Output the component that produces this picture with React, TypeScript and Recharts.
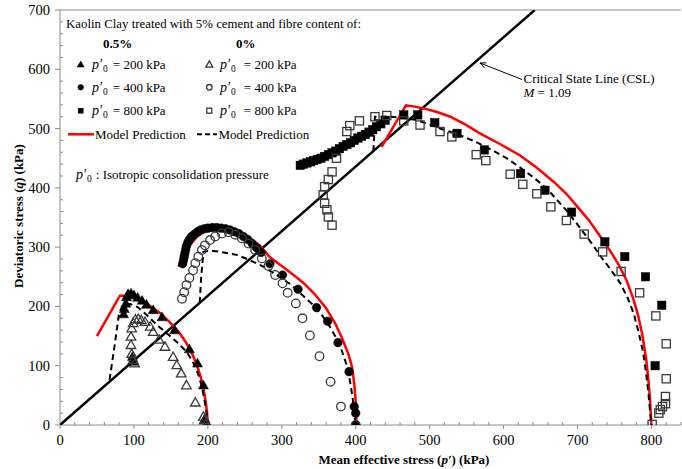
import React from 'react';
import { ScatterChart, Scatter, XAxis, YAxis, ReferenceLine, Customized } from 'recharts';

// ---------- data (p', q) in kPa ----------
const fibre05_p200: number[][] = [
  [199, 2], [196, 10], [194, 67], [186, 104], [175, 128], [155, 160], [138, 182], [126, 194],
  [117, 203], [111, 210], [105, 215], [100, 219], [96, 222], [92, 221], [90, 216], [89, 205],
  [87, 196], [86, 187], [98, 115], [99, 107],
];
const fibre0_p200: number[][] = [
  [198, 2], [195, 8], [194, 14], [183, 38], [171, 67], [164, 87], [158, 101], [153, 115],
  [142, 132], [134, 144], [126, 157], [122, 166], [115, 174], [110, 177], [106, 179], [102, 178],
  [99, 172], [97, 163], [96, 149], [96, 135], [97, 120], [99, 110], [101, 104],
];
const fibre05_p400: number[][] = [
  [166, 272], [167, 278], [168, 284], [169, 290], [170, 296], [171, 302], [173, 308], [175, 313],
  [178, 318], [182, 322], [186, 326], [190, 329], [195, 331], [200, 332], [206, 333], [212, 333],
  [218, 332], [224, 331], [230, 329], [236, 326], [242, 323], [248, 318], [254, 313], [260, 306],
  [266, 299], [272, 291], [284, 272], [301, 253], [322, 229], [347, 198], [362, 175], [376, 139],
  [391, 90], [398, 31], [400, 20], [400, 0],
];
const fibre0_p400: number[][] = [
  [400, 0], [380, 31], [366, 73], [351, 116], [338, 151], [328, 180], [319, 205], [308, 223],
  [301, 239], [291, 253], [282, 268], [273, 281], [264, 295], [255, 306], [246, 315], [237, 321],
  [228, 325], [219, 323], [210, 318], [203, 312], [196, 303], [192, 295], [187, 284], [183, 273],
  [180, 261], [175, 248], [171, 236], [168, 224], [165, 213],
];
const fibre05_p800: number[][] = [
  [325, 438], [329, 440], [334, 442], [339, 444], [343, 446], [348, 448], [353, 450], [358, 453],
  [363, 456], [368, 459], [373, 462], [378, 466], [383, 470], [388, 473], [393, 476], [398, 480],
  [403, 484], [408, 487], [413, 490], [418, 494], [423, 498], [428, 503], [434, 508], [440, 514],
  [465, 523], [484, 523], [507, 510], [537, 492], [574, 464], [623, 424], [656, 396], [692, 359],
  [737, 309], [764, 284], [792, 250], [814, 202], [805, 100],
];
const fibre0_p800: number[][] = [
  [801, 1], [810, 20], [812, 26], [815, 31], [819, 36], [819, 48], [820, 78], [820, 137],
  [806, 184], [784, 223], [759, 259], [734, 292], [709, 322], [685, 345], [664, 368], [645, 390],
  [626, 406], [609, 423], [576, 446], [563, 456], [530, 486], [514, 495], [487, 506], [465, 513],
  [442, 522], [426, 520], [405, 513], [392, 505], [388, 495], [374, 450], [368, 427], [363, 414],
  [358, 402], [356, 388], [358, 374], [361, 363], [363, 351], [368, 337],
];

const model05_p200: number[][] = [
  [50, 150], [81, 218], [88, 218], [100, 215], [112, 208], [124, 199], [136, 188], [148, 174],
  [160, 158], [170, 140], [178, 122], [185, 102], [190, 82], [194, 62], [197, 40], [199, 20], [200, 0],
];
const model05_p400: number[][] = [
  [160, 267], [167, 284], [175, 302], [185, 317], [198, 328], [212, 333], [230, 331], [250, 321],
  [270, 303], [284, 283], [300, 268], [315, 254], [329, 240], [345, 220], [360, 197], [372, 172],
  [382, 145], [390, 120], [395, 98], [398, 70], [400, 40], [401, 0],
];
const model05_p800: number[][] = [
  [435, 469], [468, 539], [480, 537], [492, 534], [510, 528], [528, 520], [548, 507], [568, 492],
  [595, 474], [622, 455], [645, 434], [668, 410], [685, 390], [700, 368], [715, 346], [728, 323],
  [742, 298], [755, 272], [766, 245], [775, 215], [782, 185], [788, 150], [793, 110], [796, 75],
  [798, 45], [800, 0],
];
const model0_p200: number[][] = [
  [67, 76], [74, 135], [80, 190], [86, 203], [95, 204], [105, 199], [117, 186], [130, 170],
  [144, 155], [158, 140], [171, 124], [178, 110], [183, 98], [188, 82], [192, 64], [195, 45],
  [198, 22], [200, 0],
];
const model0_p400: number[][] = [
  [189, 206], [191, 250], [194, 292], [200, 294], [212, 293], [239, 287], [257, 278], [275, 267],
  [293, 253], [311, 238], [327, 220], [343, 202], [355, 184], [365, 166], [374, 146], [381, 126],
  [388, 100], [392, 76], [396, 45], [398, 20], [400, 0],
];
const model0_p800: number[][] = [
  [424, 462], [425, 490], [426, 520], [447, 520], [465, 518], [483, 514], [500, 507], [514, 500],
  [530, 494], [546, 486], [560, 479], [573, 471], [590, 460], [604, 450], [617, 439], [627, 430],
  [640, 418], [650, 408], [662, 394], [672, 380], [685, 362], [697, 343], [708, 325], [720, 305],
  [731, 285], [745, 262], [758, 239], [768, 214], [776, 188], [783, 155], [789, 121], [793, 85],
  [796, 53], [798, 25], [800, 0],
];
const cslLine: number[][] = [[0, 0], [642.2, 700]];

const xTicks = [0, 20, 40, 60, 80, 100, 120, 140, 160, 180, 200, 220, 240, 260, 280, 300, 320, 340,
  360, 380, 400, 420, 440, 460, 480, 500, 520, 540, 560, 580, 600, 620, 640, 660, 680, 700, 720,
  740, 760, 780, 800, 820, 840];
const xLabels = [0, 100, 200, 300, 400, 500, 600, 700, 800];
const yTicks = [0, 20, 40, 60, 80, 100, 120, 140, 160, 180, 200, 220, 240, 260, 280, 300, 320, 340,
  360, 380, 400, 420, 440, 460, 480, 500, 520, 540, 560, 580, 600, 620, 640, 660, 680, 700];
const yLabels = [0, 100, 200, 300, 400, 500, 600, 700];

// ---------- styling ----------
const FONT = 'Liberation Serif, serif';
const AXIS = '#8c8c8c';
const RED = '#ff0000';

const toPts = (a: number[][]) => a.map(([p, q]) => ({ p, q }));

type Kind = 'tri' | 'circ' | 'sq';

function Marker({ cx, cy, kind, filled, s }: { cx: number; cy: number; kind: Kind; filled: boolean; s: number }) {
  const fill = filled ? '#000' : 'none';
  const stroke = filled ? '#000' : '#3a3a3a';
  const sw = filled ? 0.5 : 1.3;
  if (kind === 'tri') {
    const h = s * 0.88;
    return (
      <polygon
        points={`${cx},${cy - h * 0.58} ${cx + s / 2},${cy + h * 0.42} ${cx - s / 2},${cy + h * 0.42}`}
        fill={fill} stroke={stroke} strokeWidth={sw} strokeLinejoin="miter"
      />
    );
  }
  if (kind === 'circ') {
    return <circle cx={cx} cy={cy} r={s / 2} fill={fill} stroke={stroke} strokeWidth={sw} />;
  }
  return <rect x={cx - s / 2} y={cy - s / 2} width={s} height={s} fill={fill} stroke={stroke} strokeWidth={sw} />;
}

const shapeOf = (kind: Kind, filled: boolean, s: number) => (props: any) =>
  <Marker cx={props.cx} cy={props.cy} kind={kind} filled={filled} s={s} />;

const noShape = () => <g />;

const XTick = (props: any) => {
  const { x, y, payload } = props;
  const v = payload.value as number;
  const major = xLabels.includes(v);
  return (
    <g>
      {major
        ? <line x1={x} x2={x} y1={y} y2={y + 4} stroke={AXIS} />
        : <line x1={x} x2={x} y1={y} y2={y - 3} stroke={AXIS} />}
      {major && (
        <text x={x} y={y + 20} textAnchor="middle" fontSize={14.5} fontFamily={FONT} fill="#000">{v}</text>
      )}
    </g>
  );
};

const YTick = (props: any) => {
  const { x, y, payload } = props;
  const v = payload.value as number;
  const major = yLabels.includes(v);
  return (
    <g>
      {major
        ? <line x1={x - 5} x2={x} y1={y} y2={y} stroke={AXIS} />
        : <line x1={x} x2={x + 3} y1={y} y2={y} stroke={AXIS} />}
      {major && (
        <text x={x - 10} y={y + 5} textAnchor="end" fontSize={14.5} fontFamily={FONT} fill="#000">{v}</text>
      )}
    </g>
  );
};

const P0 = ({ x, y, rest, gap }: { x: number; y: number; rest: string; gap: number }) => (
  <text x={x} y={y} fontSize={13} fontFamily={FONT} fill="#000">
    <tspan fontStyle="italic" fontSize={14}>p′</tspan>
    <tspan fontSize={9.5} dy={3} dx={1}>0</tspan>
    <tspan dy={-3} dx={gap}>{rest}</tspan>
  </text>
);

const Annotations = () => (
  <g fontFamily={FONT}>
    <text x={66} y={28} fontSize={12.85} fontFamily={FONT} fill="#000">
      Kaolin Clay treated with 5% cement and fibre content of:
    </text>
    <text x={103} y={47.5} fontSize={13} fontWeight="bold" fontFamily={FONT} fill="#000">0.5%</text>
    <text x={236} y={47.5} fontSize={13} fontWeight="bold" fontFamily={FONT} fill="#000">0%</text>

    <Marker cx={80.7} cy={64.5} kind="tri" filled s={7} />
    <P0 x={92} y={68.5} rest="= 200 kPa" gap={5} />
    <Marker cx={80.7} cy={87.3} kind="circ" filled s={5.6} />
    <P0 x={92} y={92} rest="= 400 kPa" gap={5} />
    <Marker cx={80.7} cy={110.7} kind="sq" filled s={5} />
    <P0 x={92} y={115} rest="= 800 kPa" gap={5} />

    <Marker cx={209.3} cy={64.5} kind="tri" filled={false} s={7} />
    <P0 x={220} y={68.5} rest="= 200 kPa" gap={8} />
    <Marker cx={209.3} cy={87.3} kind="circ" filled={false} s={5.6} />
    <P0 x={220} y={92} rest="= 400 kPa" gap={8} />
    <Marker cx={209.3} cy={110.7} kind="sq" filled={false} s={5} />
    <P0 x={220} y={115} rest="= 800 kPa" gap={8} />

    <line x1={68} x2={94} y1={134.3} y2={134.3} stroke={RED} strokeWidth={2.5} />
    <text x={95} y={138.5} fontSize={13} fontFamily={FONT} fill="#000">Model Prediction</text>
    <line x1={197} x2={217} y1={134.3} y2={134.3} stroke="#000" strokeWidth={2} strokeDasharray="5 3" />
    <text x={218.5} y={138.5} fontSize={13} fontFamily={FONT} fill="#000">Model Prediction</text>

    <P0 x={76} y={178.5} rest=": Isotropic consolidation pressure" gap={4} />

    {/* CSL annotation */}
    <line x1={522} y1={79.5} x2={480} y2={63} stroke="#000" strokeWidth={1} />
    <polyline points="486.5,62.8 480,63 484.5,67.8" fill="none" stroke="#000" strokeWidth={1} />
    <text x={523.5} y={83} fontSize={13} fontFamily={FONT} fill="#000">Critical State Line (CSL)</text>
    <text x={523.5} y={96.5} fontSize={13} fontFamily={FONT} fill="#000">
      <tspan fontStyle="italic">M</tspan> = 1.09
    </text>

    {/* axis titles */}
    <text x={404} y={463.5} textAnchor="middle" fontSize={13} fontWeight="bold" fontFamily={FONT} fill="#000">
      Mean effective stress (<tspan fontStyle="italic">p′</tspan>) (kPa)
    </text>
    <text transform="translate(22.5,216) rotate(-90)" textAnchor="middle" fontSize={13} fontWeight="bold" fontFamily={FONT} fill="#000">
      Deviatoric stress (<tspan fontStyle="italic">q</tspan>) (kPa)
    </text>
  </g>
);

export default function App() {
  return (
    <div style={{ position: 'absolute', left: 0, top: 0, width: 682, height: 469, background: '#fff' }}>
      <ScatterChart width={682} height={469} margin={{ top: 10, right: 1, bottom: 0, left: 0 }}>
        <XAxis
          type="number" dataKey="p" domain={[0, 840]} ticks={xTicks} interval={0}
          tickSize={0} tickMargin={0} tick={XTick} height={44}
          axisLine={{ stroke: AXIS }} tickLine={false} allowDataOverflow
        />
        <YAxis
          type="number" dataKey="q" domain={[0, 700]} ticks={yTicks} interval={0}
          tickSize={0} tickMargin={0} tick={YTick} width={60}
          axisLine={{ stroke: AXIS }} tickLine={false} allowDataOverflow
        />
        <ReferenceLine y={700} stroke={AXIS} strokeWidth={1} ifOverflow="visible" />

        <Scatter data={toPts(cslLine)} line={{ stroke: '#000', strokeWidth: 2.5 }} lineType="joint" shape={noShape} isAnimationActive={false} />

        <Scatter data={toPts(model05_p200)} line={{ stroke: RED, strokeWidth: 2.5 }} lineType="joint" shape={noShape} isAnimationActive={false} />
        <Scatter data={toPts(model05_p400)} line={{ stroke: RED, strokeWidth: 2.5 }} lineType="joint" shape={noShape} isAnimationActive={false} />
        <Scatter data={toPts(model05_p800)} line={{ stroke: RED, strokeWidth: 2.5 }} lineType="joint" shape={noShape} isAnimationActive={false} />

        <Scatter data={toPts(model0_p200)} line={{ stroke: '#000', strokeWidth: 2, strokeDasharray: '6 4' }} lineType="joint" shape={noShape} isAnimationActive={false} />
        <Scatter data={toPts(model0_p400)} line={{ stroke: '#000', strokeWidth: 2, strokeDasharray: '6 4' }} lineType="joint" shape={noShape} isAnimationActive={false} />
        <Scatter data={toPts(model0_p800)} line={{ stroke: '#000', strokeWidth: 2, strokeDasharray: '6 4' }} lineType="joint" shape={noShape} isAnimationActive={false} />

        <Scatter data={toPts(fibre05_p200)} shape={shapeOf('tri', true, 10)} isAnimationActive={false} />
        <Scatter data={toPts(fibre05_p400)} shape={shapeOf('circ', true, 8.6)} isAnimationActive={false} />
        <Scatter data={toPts(fibre05_p800)} shape={shapeOf('sq', true, 8.4)} isAnimationActive={false} />

        <Scatter data={toPts(fibre0_p200)} shape={shapeOf('tri', false, 9.5)} isAnimationActive={false} />
        <Scatter data={toPts(fibre0_p400)} shape={shapeOf('circ', false, 8.6)} isAnimationActive={false} />
        <Scatter data={toPts(fibre0_p800)} shape={shapeOf('sq', false, 8.2)} isAnimationActive={false} />

        <Customized component={Annotations} />
      </ScatterChart>
    </div>
  );
}
